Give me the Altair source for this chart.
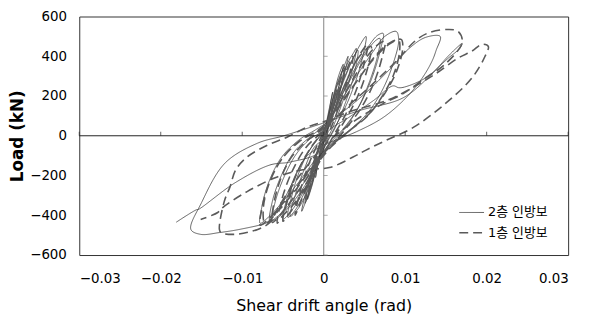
import altair as alt
import pandas as pd

series_names = ["2층 인방보", "1층 인방보"]

# 2층 인방보 (solid) – drift angle (rad) and load (kN), in loading order
s2_drift = [0, 0.0004, 0.0008, 0.0011, 0.0006, 0.0001, -0.0004, -0.0008, -0.001, -0.0006, -0.0001,
            0.0006, 0.0013, 0.0019, 0.0024, 0.0017, 0.0008, 0, -0.0008, -0.0015, -0.002, -0.0014, -0.0006,
            0.0002, 0.0011, 0.0019, 0.0026, 0.0021, 0.0011, 0.0001, -0.0009, -0.0017, -0.0023, -0.0016, -0.0006,
            0.0003, 0.001, 0.0018, 0.0026, 0.003, 0.0024, 0.0014, 0.0004, -0.0005, -0.0014, -0.0022, -0.0027, -0.002, -0.001,
            0, 0.0008, 0.0018, 0.003, 0.0037, 0.004, 0.0035, 0.0024, 0.0012, 0.0003, -0.0008, -0.002, -0.0032, -0.0041, -0.0035, -0.0024, -0.0012,
            0, 0.0012, 0.0025, 0.0036, 0.0042, 0.0038, 0.0027, 0.0014, 0.0002, -0.001, -0.0024, -0.0036, -0.0044, -0.0039, -0.0028, -0.0014,
            0, 0.001, 0.0022, 0.0034, 0.0045, 0.0052, 0.0048, 0.0038, 0.0025, 0.0012, 0, -0.0012, -0.0026, -0.004, -0.005, -0.0046, -0.0035, -0.002, -0.0005,
            0.001, 0.0025, 0.004, 0.0055, 0.0066, 0.0073, 0.007, 0.006, 0.0045, 0.003, 0.0012, -0.0005, -0.002, -0.0035, -0.005, -0.0063, -0.006, -0.005, -0.0035, -0.0018,
            0, 0.0018, 0.0035, 0.0052, 0.0064, 0.0069, 0.0066, 0.0056, 0.0042, 0.0025, 0.0005, -0.0012, -0.0028, -0.0045, -0.0058, -0.0066, -0.0063, -0.0052, -0.0036, -0.0015,
            0, 0.002, 0.004, 0.006, 0.0075, 0.0089, 0.0092, 0.0085, 0.0072, 0.0055, 0.0035, 0.001, -0.001, -0.003, -0.005, -0.0068, -0.0078, -0.0076, -0.0068, -0.0052, -0.003,
            -0.001, 0.002, 0.005, 0.008, 0.0105, 0.0125, 0.0143, 0.0138, 0.0133, 0.0121, 0.0101, 0.0073, 0.004, 0.001, -0.002, -0.004, -0.0055, -0.0065, -0.0069, -0.0102, -0.0128, -0.0151, -0.0163, -0.015, -0.0121, -0.0081, -0.0049, -0.0002,
            0.0044, 0.0097, 0.013, 0.0155, 0.017, 0.0167, 0.0153, 0.0125, 0.0099, 0.0092, 0.0085, 0.0061, 0.003, 0.0005, -0.0005, -0.0041, -0.0066, -0.0109, -0.0154, -0.0156, -0.0181]
s2_load = [0, 80, 160, 220, 110, 10, -80, -160, -210, -110, -10,
           100, 220, 310, 360, 220, 80, -30, -150, -260, -320, -190, -60,
           40, 180, 290, 350, 240, 100, -20, -160, -280, -340, -200, -50,
           40, 160, 270, 360, 400, 290, 140, 20, -100, -230, -330, -380, -250, -100,
           -20, 100, 240, 370, 420, 440, 330, 180, 50, -30, -150, -280, -370, -405, -300, -170, -60,
           -10, 150, 290, 390, 430, 320, 170, 40, -50, -170, -290, -380, -410, -300, -160, -50,
           20, 120, 250, 370, 460, 500, 400, 260, 130, 30, -60, -170, -290, -380, -420, -330, -200, -90, 0,
           100, 230, 350, 450, 505, 515, 440, 300, 160, 60, -30, -120, -230, -320, -390, -425, -340, -220, -100, -20,
           30, 170, 300, 420, 480, 490, 400, 270, 140, 40, -50, -150, -260, -360, -410, -430, -330, -200, -80, 0,
           50, 170, 300, 420, 500, 525, 480, 360, 230, 120, 40, -40, -120, -230, -330, -410, -440, -360, -240, -110, -20,
           30, 110, 210, 330, 440, 495, 500, 430, 376, 291, 191, 92, 20, -30, -100, -250, -370, -420, -436, -470, -487, -496, -471, -337, -137, -37, 0, 62,
           127, 190, 300, 410, 465, 440, 391, 291, 245, 242, 251, 177, 90, 20, -82, -132, -147, -237, -371, -372, -435]

# 1층 인방보 (dashed)
s1_drift = [0, 0.0005, 0.001, 0.0014, 0.0009, 0.0003, -0.0003, -0.0008, -0.0012, -0.0008, -0.0002,
            0.0008, 0.0016, 0.0022, 0.0026, 0.0019, 0.001, 0, -0.0008, -0.0016, -0.0022, -0.0016, -0.0007,
            0.0005, 0.0015, 0.0027, 0.0036, 0.0031, 0.002, 0.0008, -0.0004, -0.0016, -0.0028, -0.0035, -0.0029, -0.0018, -0.0006,
            0.0008, 0.002, 0.0034, 0.0046, 0.0054, 0.005, 0.004, 0.0026, 0.0012, 0, -0.0014, -0.0028, -0.0042, -0.005, -0.0044, -0.0032, -0.0016,
            0.0006, 0.0018, 0.0032, 0.0044, 0.0058, 0.0055, 0.0044, 0.0028, 0.0012, -0.0004, -0.002, -0.0036, -0.0052, -0.0057, -0.0052, -0.004, -0.0022,
            0, 0.0016, 0.0034, 0.005, 0.0064, 0.0075, 0.0072, 0.0062, 0.0046, 0.0028, 0.001, -0.001, -0.003, -0.0048, -0.0063, -0.0062, -0.0054, -0.004, -0.0022,
            0, 0.002, 0.004, 0.006, 0.008, 0.0095, 0.0097, 0.009, 0.0076, 0.0058, 0.0036, 0.0012, -0.001, -0.003, -0.005, -0.0068, -0.0078, -0.0076, -0.0068, -0.0052, -0.003,
            0, 0.0022, 0.0045, 0.0065, 0.0082, 0.0092, 0.0093, 0.0086, 0.0072, 0.0054, 0.003, 0.0008, -0.0014, -0.0034, -0.0054, -0.0072, -0.0074, -0.0066, -0.005, -0.0028,
            0, 0.003, 0.006, 0.009, 0.0113, 0.013, 0.0153, 0.0165, 0.017, 0.0149, 0.0125, 0.0097, 0.0073, 0.0044, 0.002, 0, -0.002, -0.004, -0.0057, -0.0066, -0.0081, -0.0109, -0.0126, -0.0128,
            -0.0122, -0.0115, -0.0108, -0.0094, -0.0069, -0.0045, -0.0021, 0.0004, 0.0036, 0.0077, 0.0109, 0.0137, 0.0165, 0.0182, 0.0194, 0.0202, 0.0198, 0.0182, 0.0149, 0.011, 0.0077, 0.0052, 0.0036, 0.0007,
            -0.0024, -0.0057, -0.0094, -0.0124, -0.013, -0.0151]
s1_load = [0, 70, 150, 210, 110, 20, -60, -140, -200, -100, -20,
           110, 230, 300, 340, 210, 80, -40, -150, -250, -320, -200, -70,
           60, 190, 320, 400, 300, 160, 30, -80, -210, -330, -400, -280, -140, -30,
           80, 200, 330, 420, 460, 370, 230, 100, 0, -90, -200, -300, -390, -430, -320, -180, -60,
           60, 180, 310, 400, 450, 360, 220, 90, -10, -110, -230, -340, -410, -440, -330, -190, -60,
           30, 140, 270, 380, 450, 475, 400, 270, 140, 40, -50, -150, -270, -370, -436, -360, -230, -110, -30,
           40, 150, 270, 380, 460, 485, 440, 330, 220, 120, 40, -40, -130, -240, -340, -420, -450, -370, -250, -120, -30,
           50, 170, 300, 410, 470, 480, 420, 310, 200, 100, 20, -60, -160, -270, -370, -440, -360, -230, -110, -20,
           40, 150, 260, 380, 480, 520, 535, 525, 470, 360, 291, 211, 162, 92, 20, -50, -150, -260, -370, -436, -471, -496, -487, -471,
           -330, -257, -172, -107, -47, -7, 42, 77, 127, 177, 242, 311, 391, 426, 460, 450, 400, 291, 161, 42, -22, -72, -107, -160,
           -170, -207, -281, -361, -386, -421]

x_ticks = [-0.03, -0.02, -0.01, 0, 0.01, 0.02, 0.03]
y_ticks = [-600, -400, -200, 0, 200, 400, 600]

rows = []
for name, xs, ys in [(series_names[0], s2_drift, s2_load), (series_names[1], s1_drift, s1_load)]:
    for i, (a, b) in enumerate(zip(xs, ys)):
        rows.append({"series": name, "idx": i, "drift": a, "load": b})
df = pd.DataFrame(rows)

xtick_df = pd.DataFrame({"drift": x_ticks, "load": [0] * len(x_ticks)})
ytick_df = pd.DataFrame({"load": y_ticks, "drift": [0] * len(y_ticks)})
zero_df = pd.DataFrame({"drift": [0], "load": [0]})

FONT = "DejaVu Sans, Noto Sans CJK KR"
xscale = alt.Scale(domain=[-0.03, 0.03], nice=False, zero=False)
yscale = alt.Scale(domain=[-600, 600], nice=False, zero=False)

x_axis = alt.Axis(values=x_ticks, format="~g", domain=False, ticks=False, grid=False,
                  labelPadding=17, labelFontSize=13.5, title="Shear drift angle (rad)",
                  titleFontSize=16, titleY=43, titleBaseline="top", titleFontWeight="normal")
y_axis = alt.Axis(values=y_ticks, format="d", domain=False, ticks=False, grid=False,
                  labelPadding=13, labelFontSize=13.5, title="Load (kN)",
                  titleFontSize=17, titleX=-53, titleY=120.5, titleFontWeight="bold")
X = alt.X("drift:Q", scale=xscale, axis=x_axis)
Y = alt.Y("load:Q", scale=yscale, axis=y_axis)

legend = alt.Legend(title=None, orient="none", legendX=383, legendY=185,
                    symbolType="stroke", symbolSize=625, symbolStrokeWidth=1.3,
                    labelFontSize=13, labelFont=FONT, labelColor="#000",
                    rowPadding=-5, labelOffset=3)

vzero = alt.Chart(zero_df).mark_rule(color="#999", strokeWidth=1.2).encode(x=X)
hzero = alt.Chart(zero_df).mark_rule(color="#222", strokeWidth=1).encode(y=Y)

lines = alt.Chart(df).mark_line(interpolate="catmull-rom").encode(
    x=X, y=Y,
    color=alt.Color("series:N", scale=alt.Scale(domain=series_names, range=["#3a3a3a", "#5a5a5a"]), legend=legend),
    strokeDash=alt.StrokeDash("series:N", scale=alt.Scale(domain=series_names, range=[[1, 0], [9, 5]]), legend=legend),
    strokeWidth=alt.StrokeWidth("series:N", scale=alt.Scale(domain=series_names, range=[0.8, 1.6]), legend=None),
    order=alt.Order("idx:Q"),
)

xticks = alt.Chart(xtick_df).mark_tick(orient="vertical", size=4, thickness=1, yOffset=-2, color="#222").encode(x=X, y=Y)
yticks = alt.Chart(ytick_df).mark_tick(orient="horizontal", size=4, thickness=1, xOffset=2, color="#888").encode(x=X, y=Y)

chart = alt.layer(vzero, lines, hzero, xticks, yticks).properties(
    width=494, height=241, autosize="none",
    padding={"left": 72, "top": 7, "right": 14, "bottom": 60},
).configure_axis(labelFont=FONT, titleFont=FONT, labelColor="#000", titleColor="#000"
).configure_view(stroke="#333", strokeWidth=1)

chart.save("out.html", embed_options={"renderer": "svg", "actions": False})
